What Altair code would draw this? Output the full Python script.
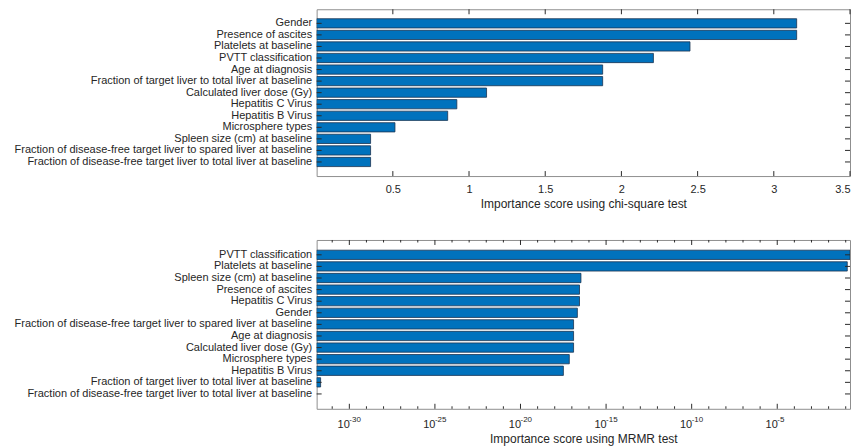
import altair as alt
import pandas as pd

# ---------------- data ----------------
chi_features = [
    "Gender",
    "Presence of ascites",
    "Platelets at baseline",
    "PVTT classification",
    "Age at diagnosis",
    "Fraction of target liver to total liver at baseline",
    "Calculated liver dose (Gy)",
    "Hepatitis C Virus",
    "Hepatitis B Virus",
    "Microsphere types",
    "Spleen size (cm) at baseline",
    "Fraction of disease-free target liver to spared liver at baseline",
    "Fraction of disease-free target liver to total liver at baseline",
]
chi_scores = [3.15, 3.15, 2.45, 2.21, 1.877, 1.877, 1.115, 0.92, 0.86, 0.514, 0.354, 0.354, 0.354]

mrmr_features = [
    "PVTT classification",
    "Platelets at baseline",
    "Spleen size (cm) at baseline",
    "Presence of ascites",
    "Hepatitis C Virus",
    "Gender",
    "Fraction of disease-free target liver to spared liver at baseline",
    "Age at diagnosis",
    "Calculated liver dose (Gy)",
    "Microsphere types",
    "Hepatitis B Virus",
    "Fraction of target liver to total liver at baseline",
    "Fraction of disease-free target liver to total liver at baseline",
]
mrmr_scores = [0.178, 0.123, 3.4e-17, 2.8e-17, 2.8e-17, 2.1e-17, 1.26e-17, 1.26e-17,
               1.26e-17, 7.1e-18, 3.2e-18, 2.1e-32, 0.0]

chi_ticks = [0.5, 1, 1.5, 2, 2.5, 3, 3.5]
chi_domain = [0, 3.5]
mrmr_major_exponents = [-30, -25, -20, -15, -10, -5]
mrmr_minor_exponents = [e for e in range(-31, 0) if e not in mrmr_major_exponents]
mrmr_domain = [1.23e-32, 0.178]

x_title_chi = "Importance score using chi-square test"
x_title_mrmr = "Importance score using MRMR test"

# ---------------- style ----------------
FONT = "Liberation Sans"
TXT = "#262626"
TICK = "#2a2a2a"
BAR = "#0072BD"
EDGE = "#1b3350"
W = 534
H_TOP = 167
H_BOT = 169


def y_axis():
    return alt.Axis(orient="left", title=None, ticks=False, tickSize=0, labelPadding=5,
                    labelFont=FONT, labelFontSize=11, labelColor=TXT, labelLimit=500,
                    domain=False, grid=False)


def x_axis(values, title, label_pad, title_pad, **kw):
    return alt.Axis(orient="bottom", values=values, title=title, ticks=False, tickSize=0,
                    labelPadding=label_pad, labelFont=FONT, labelFontSize=11, labelColor=TXT,
                    titleFont=FONT, titleFontSize=12, titleFontWeight="normal",
                    titleColor=TXT, titlePadding=title_pad, domain=False, grid=False, **kw)


def make_panel(scores, order, xscale, xaxis, major_ticks, minor_ticks, height, pad_outer,
               exponents=None):
    df = pd.DataFrame({"feature": order, "score": scores})
    df["base"] = xscale.domain[0]
    bar_df = df[df["score"] > 0]
    yscale = alt.Scale(domain=order, paddingInner=0.2, paddingOuter=pad_outer)
    Y = alt.Y("feature:N", sort=order, scale=yscale, axis=y_axis())

    def X():
        return alt.X("score:Q", scale=xscale, axis=xaxis)

    bars = alt.Chart(bar_df).mark_bar(color=BAR, stroke=EDGE, strokeWidth=0.8, clip=True).encode(
        x=X(), x2="base:Q", y=Y)

    layers = [bars]
    # y ticks (left and right, pointing inward)
    feat_df = pd.DataFrame({"feature": order})
    layers.append(alt.Chart(feat_df).mark_rule(color=TICK, strokeWidth=1).encode(
        y=Y, x=alt.value(0), x2=alt.value(5)))
    layers.append(alt.Chart(feat_df).mark_rule(color=TICK, strokeWidth=1).encode(
        y=Y, x=alt.value(W - 5), x2=alt.value(W)))
    # x ticks (bottom and top, pointing inward)
    for vals, ln in ((major_ticks, 5), (minor_ticks, 2.5)):
        if not vals:
            continue
        tdf = pd.DataFrame({"score": vals})
        layers.append(alt.Chart(tdf).mark_rule(color=TICK, strokeWidth=1).encode(
            x=X(), y=alt.value(height), y2=alt.value(height - ln)))
        layers.append(alt.Chart(tdf).mark_rule(color=TICK, strokeWidth=1).encode(
            x=X(), y=alt.value(0), y2=alt.value(ln)))
    # superscript exponents for log labels
    if exponents is not None:
        edf = pd.DataFrame({"score": major_ticks, "exp": [str(e) for e in exponents]})
        layers.append(alt.Chart(edf).mark_text(
            align="left", baseline="top", dx=0, font=FONT, fontSize=8, color=TXT
        ).encode(x=X(), y=alt.value(height + 7), text="exp:N"))
    return alt.layer(*layers).properties(width=W, height=height)


# top panel
chi_scale = alt.Scale(domain=chi_domain, nice=False, zero=False)
chi_axis = x_axis(chi_ticks, x_title_chi, 7, 4, format="~g", labelFlush=True)
top = make_panel(chi_scores, chi_features, chi_scale, chi_axis, chi_ticks, [], H_TOP, 0.82)

# bottom panel
mrmr_major = [10.0 ** e for e in mrmr_major_exponents]
mrmr_minor = [10.0 ** e for e in mrmr_minor_exponents]
mrmr_scale = alt.Scale(type="log", domain=mrmr_domain, nice=False)
mrmr_axis = x_axis(mrmr_major, x_title_mrmr, 10, 4, labelExpr="'10'", labelAlign="right",
                   labelOffset=0, labelOverlap=False)
bottom = make_panel(mrmr_scores, mrmr_features, mrmr_scale, mrmr_axis, mrmr_major,
                    mrmr_minor, H_BOT, 0.88, exponents=mrmr_major_exponents)

chart = alt.vconcat(top, bottom, spacing=29).properties(
    padding={"left": 5, "top": 0, "right": 0, "bottom": 0}
).configure(font=FONT).configure_view(stroke="#8f8f8f", strokeWidth=1)

chart.save("out.html", embed_options={"renderer": "svg", "actions": False})
